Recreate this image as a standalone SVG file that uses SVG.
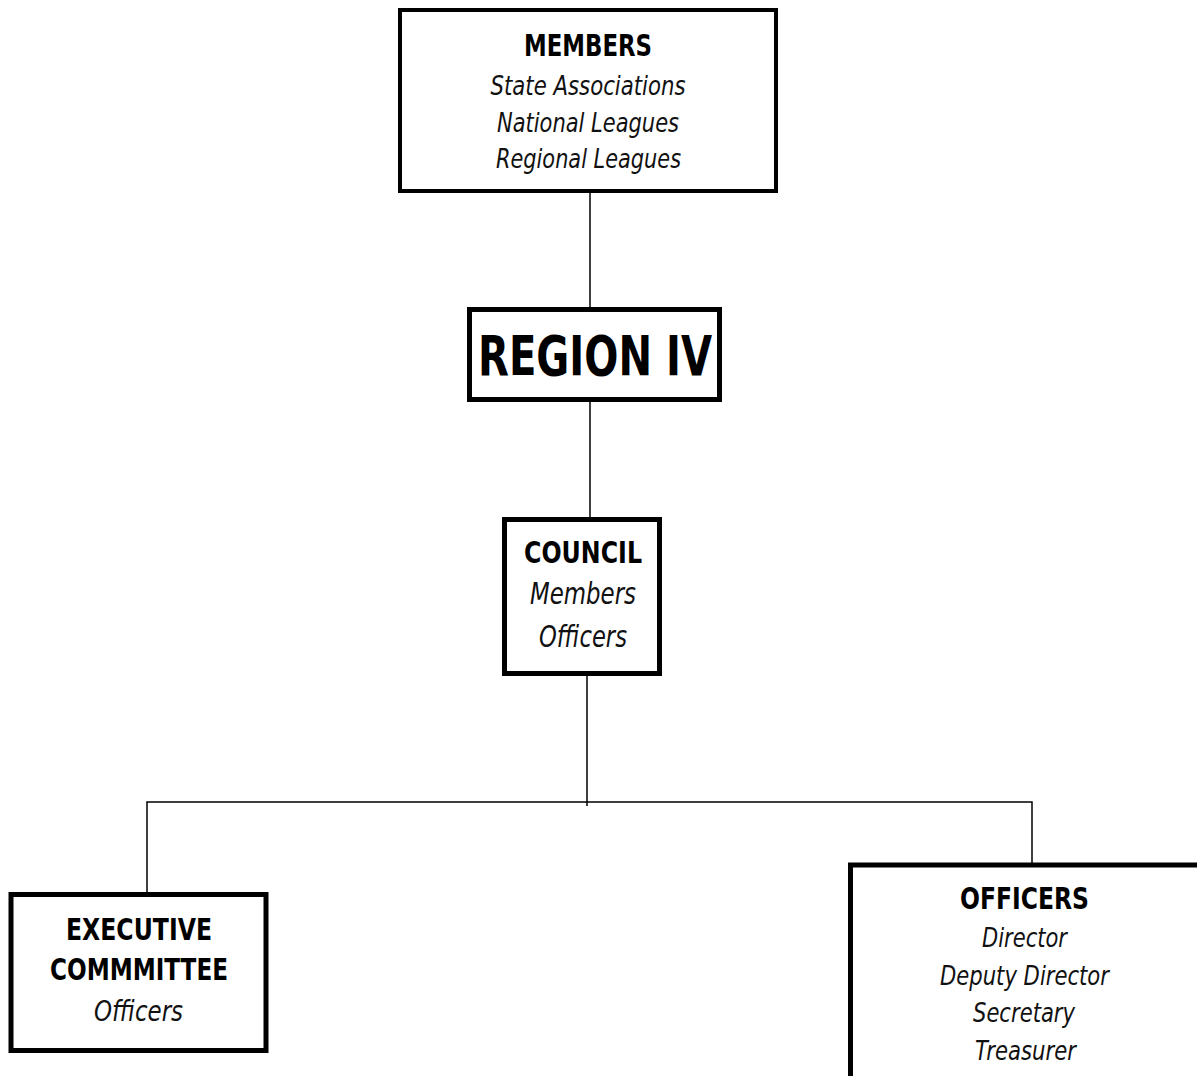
<svg xmlns="http://www.w3.org/2000/svg" width="1197" height="1076" viewBox="0 0 1197 1076">
<style>
.box{fill:#fff;stroke:#000}
.b{font-family:"DejaVu Sans","Liberation Sans",sans-serif;font-weight:bold;fill:#000;text-anchor:middle}
.i{font-family:"DejaVu Sans","Liberation Sans",sans-serif;font-style:italic;fill:#111;text-anchor:middle}
.c{stroke:#000;stroke-width:1.5;fill:none}
</style>
<rect width="1197" height="1076" fill="#fff"/>
<g id="connectors">
<line class="c" x1="590" y1="192" x2="590" y2="308"/>
<line class="c" x1="590" y1="401" x2="590" y2="518"/>
<line class="c" x1="587" y1="675" x2="587" y2="806"/>
<polyline class="c" points="147,893 147,802 1032,802 1032,863"/>
</g>
<g id="members">
<rect class="box" x="400" y="10" width="376" height="181" stroke-width="4"/>
<text class="b" x="588" y="56" font-size="30" textLength="128" lengthAdjust="spacingAndGlyphs">MEMBERS</text>
<text class="i" x="588" y="95" font-size="27" textLength="195" lengthAdjust="spacingAndGlyphs">State Associations</text>
<text class="i" x="588" y="132" font-size="27" textLength="182" lengthAdjust="spacingAndGlyphs">National Leagues</text>
<text class="i" x="588.5" y="168" font-size="27" textLength="185" lengthAdjust="spacingAndGlyphs">Regional Leagues</text>
</g>
<g id="region">
<rect class="box" x="469.5" y="309.5" width="250" height="90" stroke-width="5"/>
<text class="b" x="595" y="375" font-size="55" textLength="234" lengthAdjust="spacingAndGlyphs">REGION IV</text>
</g>
<g id="council">
<rect class="box" x="504.5" y="519.5" width="155" height="154" stroke-width="5"/>
<text class="b" x="583" y="563" font-size="31" textLength="118" lengthAdjust="spacingAndGlyphs">COUNCIL</text>
<text class="i" x="583" y="604" font-size="31" textLength="106" lengthAdjust="spacingAndGlyphs">Members</text>
<text class="i" x="583" y="647" font-size="31" textLength="88" lengthAdjust="spacingAndGlyphs">Officers</text>
</g>
<g id="executive">
<rect class="box" x="11" y="894.5" width="255" height="156" stroke-width="5"/>
<text class="b" x="139" y="940" font-size="30" textLength="146" lengthAdjust="spacingAndGlyphs">EXECUTIVE</text>
<text class="b" x="139" y="980" font-size="30" textLength="178" lengthAdjust="spacingAndGlyphs">COMMMITTEE</text>
<text class="i" x="138.5" y="1021" font-size="28" textLength="89" lengthAdjust="spacingAndGlyphs">Officers</text>
</g>
<g id="officers">
<rect class="box" x="850.5" y="865" width="360" height="230" stroke-width="5"/>
<text class="b" x="1024.5" y="909" font-size="30" textLength="129" lengthAdjust="spacingAndGlyphs">OFFICERS</text>
<text class="i" x="1024.5" y="947" font-size="27" textLength="85" lengthAdjust="spacingAndGlyphs">Director</text>
<text class="i" x="1024.5" y="985" font-size="27" textLength="169" lengthAdjust="spacingAndGlyphs">Deputy Director</text>
<text class="i" x="1024" y="1022" font-size="27" textLength="102" lengthAdjust="spacingAndGlyphs">Secretary</text>
<text class="i" x="1025.5" y="1060" font-size="27" textLength="101" lengthAdjust="spacingAndGlyphs">Treasurer</text>
</g>
</svg>
